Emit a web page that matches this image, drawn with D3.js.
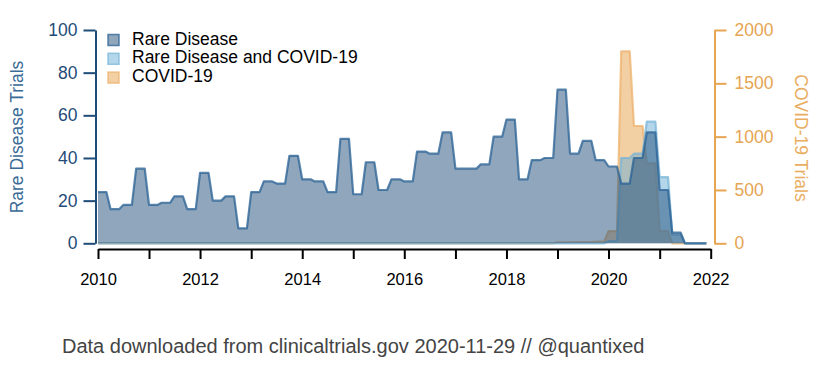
<!DOCTYPE html>
<html>
<head>
<meta charset="utf-8">
<script src="https://cdn.jsdelivr.net/npm/d3@7"></script>
<style>
  html, body { margin: 0; padding: 0; background: #fff; }
  svg { display: block; }
  svg text { font-family: "Liberation Sans", Arial, Helvetica, sans-serif; }
</style>
</head>
<body>
<svg id="chart" width="820" height="368"></svg>
<script>
// ---------- data (quarterly) ----------
const quarters = [
  "2010-01","2010-04","2010-07","2010-10",
  "2011-01","2011-04","2011-07","2011-10",
  "2012-01","2012-04","2012-07","2012-10",
  "2013-01","2013-04","2013-07","2013-10",
  "2014-01","2014-04","2014-07","2014-10",
  "2015-01","2015-04","2015-07","2015-10",
  "2016-01","2016-04","2016-07","2016-10",
  "2017-01","2017-04","2017-07","2017-10",
  "2018-01","2018-04","2018-07","2018-10",
  "2019-01","2019-04","2019-07","2019-10",
  "2020-01","2020-04","2020-07","2020-10",
  "2021-01","2021-04","2021-07","2021-10"
];
const rareDisease = [
  24, 16, 18, 35,
  18, 19, 22, 16,
  33, 20, 22, 7,
  24, 29, 28, 41,
  30, 29, 24, 49,
  23, 38, 25, 30,
  29, 43, 42, 52,
  35, 35, 37, 50,
  58, 30, 39, 40,
  72, 42, 48, 39,
  36, 28, 40, 52,
  25, 5, 0, 0
];
const rareAndCovid = [
  0, 0, 0, 0,
  0, 0, 0, 0,
  0, 0, 0, 0,
  0, 0, 0, 0,
  0, 0, 0, 0,
  0, 0, 0, 0,
  0, 0, 0, 0,
  0, 0, 0, 0,
  0, 0, 0, 0,
  0, 0, 0, 0,
  1, 40, 42, 57,
  31, 4, 0, 0
];
const covid19 = [
  0, 0, 0, 0,
  0, 0, 0, 0,
  0, 0, 0, 0,
  0, 0, 0, 0,
  0, 0, 0, 0,
  0, 0, 0, 0,
  0, 0, 0, 0,
  0, 0, 0, 0,
  0, 0, 0, 0,
  10, 12, 12, 15,
  115, 1800, 1100, 750,
  115, 0, 0, 0
];
const leftTicks = [0, 20, 40, 60, 80, 100];
const rightTicks = [0, 500, 1000, 1500, 2000];
const xTickYears = [2010, 2011, 2012, 2013, 2014, 2015, 2016, 2017, 2018, 2019, 2020, 2021, 2022];
const legendLabels = ["Rare Disease", "Rare Disease and COVID-19", "COVID-19"];
const leftTitle = "Rare Disease Trials";
const rightTitle = "COVID-19 Trials";
const caption = "Data downloaded from clinicaltrials.gov 2020-11-29 // @quantixed";

// ---------- styles ----------
const C_BLUE = "#1f4e79", C_LIGHT = "#6aaed6", C_ORANGE = "#e8a04a";
const S_BLUE = "rgba(45,100,150,0.78)", S_LIGHT = "rgba(120,180,215,0.75)", S_ORANGE = "rgba(236,178,110,0.75)";
const AX_BLUE = "#1f4c78", AX_ORANGE = "#e6a552";
const FONT = "'Liberation Sans', Arial, Helvetica, sans-serif";

const svg = d3.select("#chart");
const parse = d3.timeParse("%Y-%m");
const dates = quarters.map(parse);

const x = d3.scaleTime()
  .domain([new Date(2010, 0, 1), new Date(2022, 0, 1)])
  .range([98, 710.7]);
const yL = d3.scaleLinear().domain([0, 100]).range([243.3, 30]);
const yR = d3.scaleLinear().domain([0, 2000]).range([243.3, 30]);

// Curve: each quarterly value is held flat for 2/3 of the interval, then slopes to the next
function curveHold(context) {
  let pts = [], line = NaN;
  return {
    areaStart() { line = 0; },
    areaEnd() { line = NaN; },
    lineStart() { pts = []; },
    point(px, py) { pts.push([+px, +py]); },
    lineEnd() {
      const n = pts.length;
      if (!n) return;
      const asc = pts[n - 1][0] >= pts[0][0];
      const hold = i => {
        const j = asc ? i + 1 : i - 1, k = asc ? i - 1 : i + 1;
        if (j >= 0 && j < n) return (2 / 3) * (pts[j][0] - pts[i][0]);
        if (k >= 0 && k < n) return (2 / 3) * (pts[i][0] - pts[k][0]);
        return 0;
      };
      let first = true;
      const go = (a, b) => {
        if (first && line !== 1) context.moveTo(a, b); else context.lineTo(a, b);
        first = false;
      };
      for (let i = 0; i < n; i++) {
        const [px, py] = pts[i], h = hold(i);
        if (asc) { go(px, py); go(px + h, py); }
        else { go(px + h, py); go(px, py); }
      }
      if (line === 1) context.closePath();
      line = 1 - line;
    }
  };
}

function drawSeries(values, yScale, color, fillOp, strokeCol) {
  const data = values.map((v, i) => ({ d: dates[i], v }));
  const area = d3.area().curve(curveHold)
    .x(p => x(p.d)).y0(yScale(0)).y1(p => yScale(p.v));
  const line = d3.line().curve(curveHold)
    .x(p => x(p.d)).y(p => yScale(p.v));
  const g = svg.append("g");
  g.append("path").attr("d", area(data))
    .attr("fill", color).attr("fill-opacity", fillOp).attr("stroke", "none");
  g.append("path").attr("d", line(data))
    .attr("fill", "none").attr("stroke", strokeCol).attr("stroke-width", 2.2)
    .attr("stroke-linejoin", "round");
}

drawSeries(covid19, yR, C_ORANGE, 0.5, S_ORANGE);
drawSeries(rareAndCovid, yL, C_LIGHT, 0.5, S_LIGHT);
drawSeries(rareDisease, yL, C_BLUE, 0.5, S_BLUE);

// ---------- axes ----------
const axL = svg.append("g").attr("transform", "translate(95.5,0)")
  .call(d3.axisLeft(yL).tickValues(leftTicks).tickSize(12).tickPadding(6).tickSizeOuter(0));
axL.attr("font-family", FONT).attr("font-size", 17.5);
axL.selectAll("path,line").attr("stroke", AX_BLUE).attr("stroke-width", 2);
axL.selectAll("text").attr("fill", AX_BLUE);

const axR = svg.append("g").attr("transform", "translate(714.5,0)")
  .call(d3.axisRight(yR).tickValues(rightTicks).tickFormat(d3.format("d"))
    .tickSize(12).tickPadding(8).tickSizeOuter(0));
axR.attr("font-family", FONT).attr("font-size", 17.5);
axR.selectAll("path,line").attr("stroke", AX_ORANGE).attr("stroke-width", 2);
axR.selectAll("text").attr("fill", AX_ORANGE);

const axB = svg.append("g").attr("transform", "translate(0,249)")
  .call(d3.axisBottom(x)
    .tickValues(xTickYears.map(yv => new Date(yv, 0, 1)))
    .tickFormat(dv => dv.getFullYear() % 2 === 0 ? String(dv.getFullYear()) : "")
    .tickSize(10).tickPadding(14).tickSizeOuter(0));
axB.attr("font-family", FONT).attr("font-size", 16.5);
axB.selectAll("path,line").attr("stroke", "#000").attr("stroke-width", 2);
axB.selectAll("text").attr("fill", "#000");

// axis titles
svg.append("text")
  .attr("transform", "translate(23,137) rotate(-90)")
  .attr("text-anchor", "middle")
  .attr("fill", "#3a6a96").style("font-size", "17.5px")
  .text(leftTitle);
svg.append("text")
  .attr("transform", "translate(795,138) rotate(90)")
  .attr("text-anchor", "middle")
  .attr("fill", "#e9ad62").style("font-size", "17.5px")
  .text(rightTitle);

// ---------- legend ----------
const legendFill = [C_BLUE, C_LIGHT, C_ORANGE];
const legendStroke = [S_BLUE, S_LIGHT, S_ORANGE];
const lg = svg.append("g");
legendLabels.forEach((lab, i) => {
  lg.append("rect")
    .attr("x", 108).attr("y", 34.5 + i * 18.8).attr("width", 11).attr("height", 11)
    .attr("fill", legendFill[i]).attr("fill-opacity", 0.5)
    .attr("stroke", legendStroke[i]).attr("stroke-width", 1.5);
  lg.append("text")
    .attr("x", 132).attr("y", 44.5 + i * 18.8)
    .attr("fill", "#000").style("font-size", "17.5px")
    .text(lab);
});

// ---------- caption ----------
svg.append("text")
  .attr("x", 62).attr("y", 353)
  .attr("fill", "#444").style("font-size", "20px")
  .text(caption);
</script>
</body>
</html>
